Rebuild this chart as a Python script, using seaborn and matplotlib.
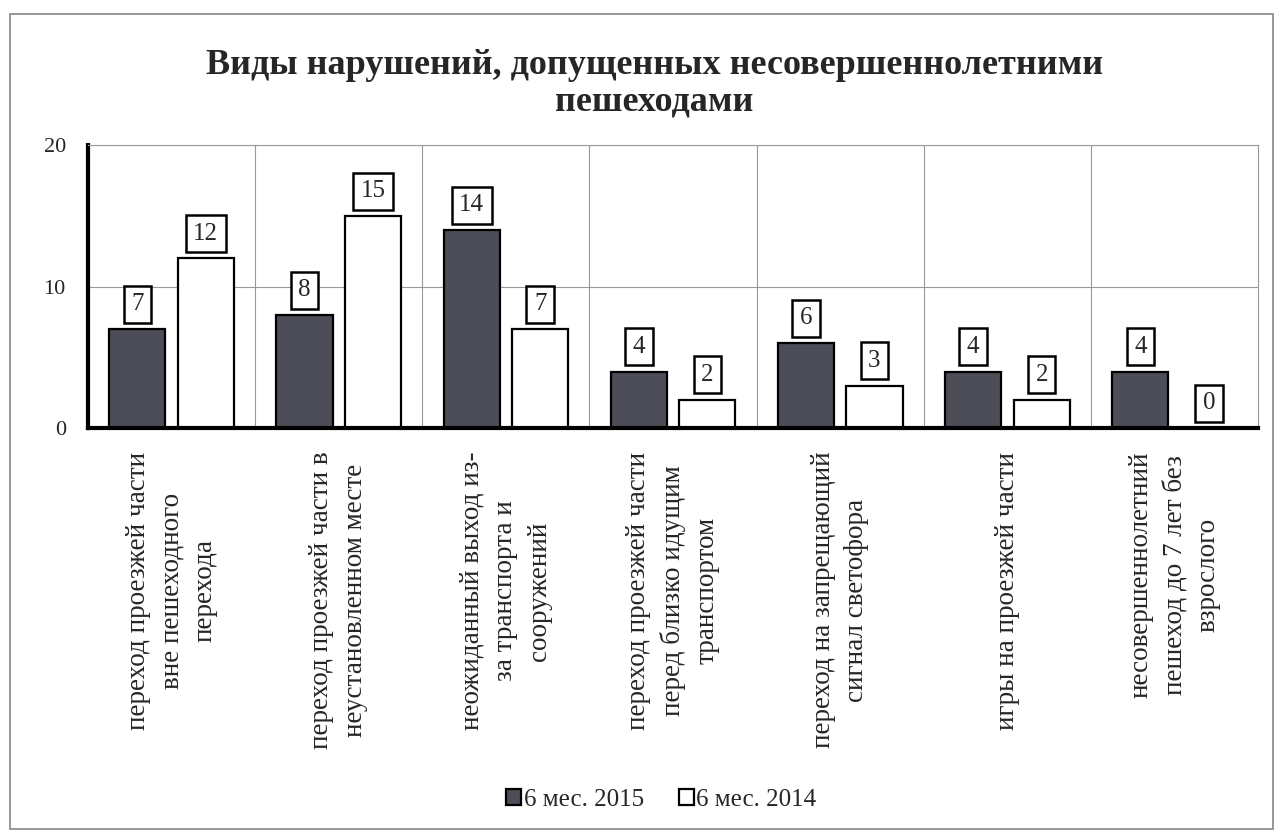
import matplotlib
matplotlib.use("Agg")
import matplotlib.pyplot as plt
import seaborn as sns
import pandas as pd
from matplotlib.patches import Rectangle

categories = [
    "переход проезжей части\nвне пешеходного\nперехода",
    "переход проезжей части в\nнеустановленном месте",
    "неожиданный выход из-\nза транспорта и\nсооружений",
    "переход проезжей части\nперед близко идущим\nтранспортом",
    "переход на запрещающий\nсигнал светофора",
    "игры на проезжей части",
    "несовершеннолетний\nпешеход до 7 лет без\nвзрослого",
]
series_names = ["6 мес. 2015", "6 мес. 2014"]
values_2015 = [7, 8, 14, 4, 6, 4, 4]
values_2014 = [12, 15, 7, 2, 3, 2, 0]
y_ticks = [0, 10, 20]

df = pd.DataFrame({
    "cat": categories * 2,
    "period": [series_names[0]] * len(categories) + [series_names[1]] * len(categories),
    "value": values_2015 + values_2014,
})

sns.set_theme(style="white")
plt.rcParams["font.family"] = ["Liberation Serif", "DejaVu Serif"]

fig = plt.figure(figsize=(12.83, 8.36), dpi=100)
ax = fig.add_axes([0.0686, 0.488, 0.912, 0.338])

# outer chart border
fig.patches.append(Rectangle((0.008, 0.008), 0.984, 0.975, transform=fig.transFigure,
                             fill=False, edgecolor="#888888", linewidth=1.2))

sns.barplot(data=df, x="cat", y="value", hue="period", order=categories,
            hue_order=series_names, palette=["#4b4b5a", "#ffffff"],
            edgecolor="black", linewidth=1.6, width=0.82, gap=0.18,
            legend=True, ax=ax)

ax.set_ylim(0, 20)
ax.set_xlim(-0.5, len(categories) - 0.5)
ax.set_yticks(y_ticks)
ax.set_yticklabels([str(t) for t in y_ticks], fontsize=16)
ax.set_xticks(range(len(categories)))
ax.set_xticklabels(categories, rotation=90, fontsize=19.5, ha="center", va="top",
                   multialignment="center", linespacing=1.45)
ax.tick_params(axis="x", length=0, pad=17)
ax.tick_params(axis="y", length=0, pad=16)
ax.set_xlabel("")
ax.set_ylabel("")

# grid: horizontal at ticks, vertical between categories
ax.set_xticks([i + 0.5 for i in range(len(categories) - 1)], minor=True)
ax.grid(axis="y", which="major", color="#999999", linewidth=0.8)
ax.grid(axis="x", which="minor", color="#999999", linewidth=0.8)
ax.set_axisbelow(True)

for side in ["top", "right"]:
    ax.spines[side].set_color("#999999")
    ax.spines[side].set_linewidth(0.8)
for side in ["left", "bottom"]:
    ax.spines[side].set_color("black")
    ax.spines[side].set_linewidth(3)

# value labels in boxes
for container in ax.containers:
    ax.bar_label(container, fmt="%d", padding=10, fontsize=18,
                 bbox=dict(boxstyle="square,pad=0.3", facecolor="white",
                           edgecolor="black", linewidth=1.8))

ax.legend(loc="center", bbox_to_anchor=(0.49, -1.316), ncol=2, frameon=False,
          fontsize=18, handlelength=0.6, handleheight=0.6, handletextpad=0.1,
          columnspacing=1.4)

fig.text(0.51, 0.9, "Виды нарушений, допущенных несовершеннолетними\nпешеходами",
         ha="center", va="center", fontsize=26, fontweight="bold", linespacing=1.15)

fig.savefig("out.png", dpi=100)
